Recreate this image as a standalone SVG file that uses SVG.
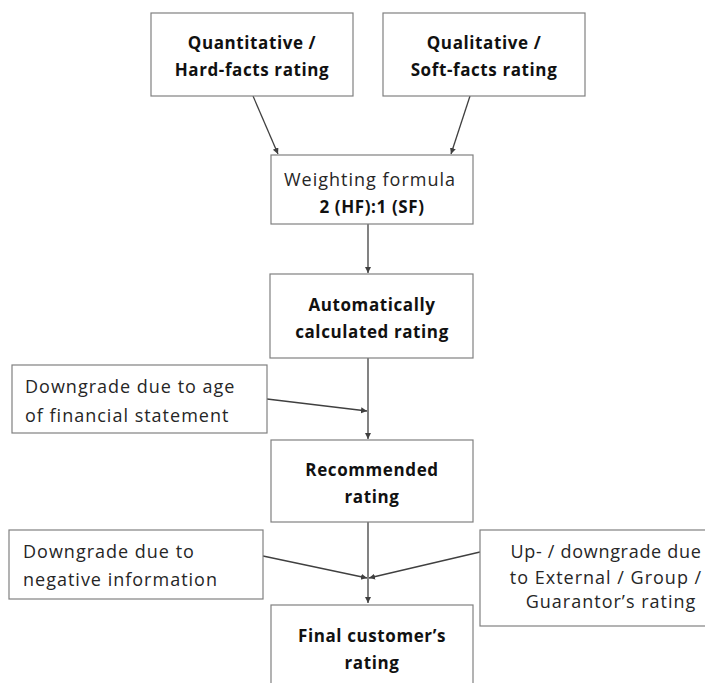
<svg xmlns="http://www.w3.org/2000/svg" width="705" height="683" viewBox="0 0 705 683">
<defs>
<marker id="ah" markerWidth="8" markerHeight="8" refX="6" refY="3" orient="auto" markerUnits="userSpaceOnUse">
<path d="M0,0 L6,3 L0,6 z" fill="#404040"/>
</marker>
<style>
.box{fill:#fff;stroke:#808080;stroke-width:1.2}
.t{font-family:"Open Sans","Liberation Sans",sans-serif;font-size:18px;fill:#262626;letter-spacing:1px}
.b{font-weight:bold;fill:#111;font-size:17px;letter-spacing:0.6px}
.c{text-anchor:middle}
.con{stroke:#404040;stroke-width:1.3;fill:none}
</style>
</defs>
<rect width="705" height="683" fill="#fff"/>
<g id="connectors">
<line class="con" x1="253" y1="96" x2="278" y2="154" marker-end="url(#ah)"/>
<line class="con" x1="470" y1="96" x2="451" y2="154" marker-end="url(#ah)"/>
<line class="con" x1="368" y1="224" x2="368" y2="273" marker-end="url(#ah)"/>
<line class="con" x1="368" y1="358" x2="368" y2="439" marker-end="url(#ah)"/>
<line class="con" x1="267" y1="399" x2="367" y2="411" marker-end="url(#ah)"/>
<line class="con" x1="368" y1="522" x2="368" y2="603" marker-end="url(#ah)"/>
<line class="con" x1="263" y1="556" x2="367" y2="578" marker-end="url(#ah)"/>
<line class="con" x1="480" y1="552" x2="369" y2="578" marker-end="url(#ah)"/>
</g>
<g id="quantitative">
<rect class="box" x="151" y="13" width="202" height="83"/>
<text class="t b c" x="252" y="49">Quantitative /</text>
<text class="t b c" x="252" y="76">Hard-facts rating</text>
</g>
<g id="qualitative">
<rect class="box" x="383" y="13" width="202" height="83"/>
<text class="t b c" x="484" y="49">Qualitative /</text>
<text class="t b c" x="484" y="76">Soft-facts rating</text>
</g>
<g id="weighting">
<rect class="box" x="271" y="155" width="202" height="69"/>
<text class="t c" x="370" y="186">Weighting formula</text>
<text class="t b c" x="372" y="213">2 (HF):1 (SF)</text>
</g>
<g id="automatic">
<rect class="box" x="270" y="274" width="203" height="84"/>
<text class="t b c" x="372" y="311">Automatically</text>
<text class="t b c" x="372" y="338">calculated rating</text>
</g>
<g id="age">
<rect class="box" x="12" y="365" width="255" height="68"/>
<text class="t" x="25" y="393">Downgrade due to age</text>
<text class="t" x="25" y="422">of financial statement</text>
</g>
<g id="recommended">
<rect class="box" x="271" y="440" width="202" height="82"/>
<text class="t b c" x="372" y="476">Recommended</text>
<text class="t b c" x="372" y="503">rating</text>
</g>
<g id="negative">
<rect class="box" x="9" y="530" width="254" height="69"/>
<text class="t" x="23" y="558">Downgrade due to</text>
<text class="t" x="23" y="586">negative information</text>
</g>
<g id="external">
<rect class="box" x="480" y="530" width="260" height="96"/>
<text class="t c" x="606" y="558" style="letter-spacing:0.7px">Up- / downgrade due</text>
<text class="t c" x="606" y="584">to External  / Group /</text>
<text class="t c" x="611" y="608">Guarantor’s rating</text>
</g>
<g id="final">
<rect class="box" x="271" y="605" width="202" height="90"/>
<text class="t b c" x="372" y="642">Final customer’s</text>
<text class="t b c" x="372" y="669">rating</text>
</g>
</svg>
